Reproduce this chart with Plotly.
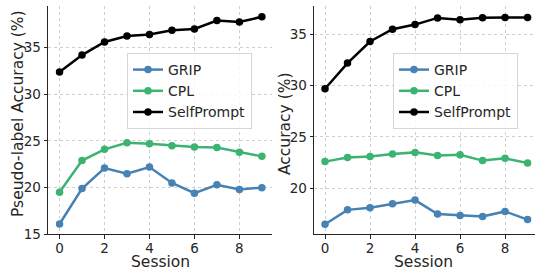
import plotly.graph_objects as go

sessions = list(range(10))

# Left panel: pseudo-label accuracy
pl_grip = [16.1, 19.9, 22.1, 21.5, 22.2, 20.5, 19.4, 20.3, 19.8, 20.0]
pl_cpl = [19.5, 22.9, 24.1, 24.8, 24.7, 24.5, 24.35, 24.3, 23.8, 23.35]
pl_self = [32.4, 34.2, 35.6, 36.25, 36.4, 36.85, 37.0, 37.9, 37.75, 38.3]

# Right panel: accuracy
acc_grip = [16.5, 17.9, 18.1, 18.5, 18.85, 17.5, 17.35, 17.25, 17.75, 16.95]
acc_cpl = [22.6, 23.0, 23.1, 23.35, 23.5, 23.2, 23.27, 22.7, 22.92, 22.47]
acc_self = [29.7, 32.2, 34.3, 35.5, 35.95, 36.6, 36.42, 36.62, 36.65, 36.65]

names = ["GRIP", "CPL", "SelfPrompt"]
colors = ["#4682b4", "#3cb371", "#000000"]

FONT = "DejaVu Sans"
fig = go.Figure()

for vals, nm, c in zip([pl_grip, pl_cpl, pl_self], names, colors):
    fig.add_trace(go.Scatter(x=sessions, y=vals, name=nm, mode="lines+markers",
                             line=dict(color=c, width=2.5), marker=dict(color=c, size=7.5),
                             xaxis="x", yaxis="y", legend="legend", cliponaxis=False))
for vals, nm, c in zip([acc_grip, acc_cpl, acc_self], names, colors):
    fig.add_trace(go.Scatter(x=sessions, y=vals, name=nm, mode="lines+markers",
                             line=dict(color=c, width=2.5), marker=dict(color=c, size=7.5),
                             xaxis="x2", yaxis="y2", legend="legend2", cliponaxis=False))

W, H = 535, 270
ydom = [(H - 234.3) / H, (H - 6) / H]

axis_common = dict(
    showline=True, linecolor="#262626", linewidth=1.3,
    ticks="outside", ticklen=3.5, tickcolor="#262626", tickwidth=1,
    showgrid=True, gridcolor="#cfcfcf", griddash="dot", gridwidth=0.8,
    zeroline=False, tickfont=dict(family=FONT, size=13.5, color="#262626"),
    mirror=False, automargin=False,
)

fig.update_layout(
    width=W, height=H,
    margin=dict(l=0, r=0, t=0, b=0, autoexpand=False),
    paper_bgcolor="white", plot_bgcolor="white",
    font=dict(family=FONT, color="#262626"),
    xaxis=dict(domain=[48.3 / W, 272 / W], range=[-0.5, 9.45], tickvals=[0, 2, 4, 6, 8],
               anchor="y", ticklabelstandoff=-2, **axis_common),
    yaxis=dict(domain=ydom, range=[15, 39.46], tickvals=[15, 20, 25, 30, 35],
               anchor="x", **axis_common),
    xaxis2=dict(domain=[314.3 / W, 1.0], range=[-0.476, 9.33], tickvals=[0, 2, 4, 6, 8],
                anchor="y2", ticklabelstandoff=-2, **axis_common),
    yaxis2=dict(domain=ydom, range=[15.52, 37.76], tickvals=[20, 25, 30, 35],
                anchor="x2", **axis_common),
    legend=dict(x=127 / W, y=1 - 53 / H, xanchor="left", yanchor="top",
                bgcolor="rgba(255,255,255,0.8)", bordercolor="#d6d6d6", borderwidth=1,
                font=dict(family=FONT, size=14, color="#262626"),
                tracegroupgap=0, itemwidth=30),
    legend2=dict(x=393 / W, y=1 - 53 / H, xanchor="left", yanchor="top",
                 bgcolor="rgba(255,255,255,0.8)", bordercolor="#d6d6d6", borderwidth=1,
                 font=dict(family=FONT, size=14, color="#262626"),
                 tracegroupgap=0, itemwidth=30),
    showlegend=True,
)

# Axis titles as annotations
ann_font = dict(family=FONT, size=15.5, color="#262626")
fig.add_annotation(text="Session", x=(48.3 + 272) / 2 / W, y=1 - 262 / H, xref="paper", yref="paper",
                   showarrow=False, font=ann_font, xanchor="center", yanchor="middle", borderpad=0)
fig.add_annotation(text="Session", x=(314.3 + 535) / 2 / W - 0.003, y=1 - 262 / H, xref="paper", yref="paper",
                   showarrow=False, font=ann_font, xanchor="center", yanchor="middle", borderpad=0)
fig.add_annotation(text="Pseudo-label Accuracy (%)", x=18 / W, y=1 - 114 / H, xref="paper", yref="paper",
                   showarrow=False, font=ann_font, textangle=-90, xanchor="center", yanchor="middle")
fig.add_annotation(text="Accuracy (%)", x=285 / W, y=1 - 124 / H, xref="paper", yref="paper",
                   showarrow=False, font=ann_font, textangle=-90, xanchor="center", yanchor="middle")

fig.write_html("out.html", config={"displayModeBar": False},
               post_script="document.body.style.margin='0';")
